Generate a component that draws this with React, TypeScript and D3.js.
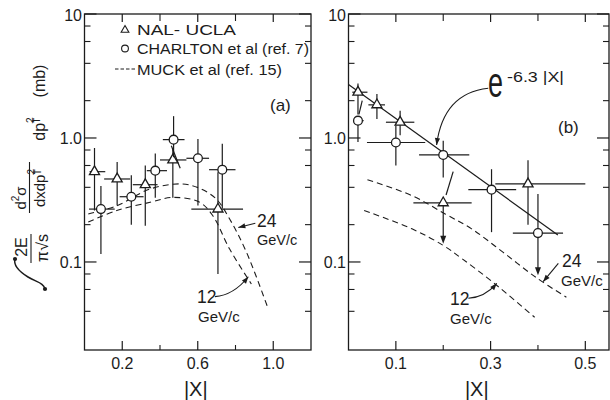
import React from "react";
import * as d3 from "d3";

// ---------------- data ----------------
// Panel (a): NAL-UCLA (triangles)
const aNalX = [0.053, 0.173, 0.322, 0.468, 0.707];
const aNalY = [0.535, 0.467, 0.42, 0.665, 0.267];
const aNalXLo = [0.027, 0.104, 0.256, 0.4, 0.566];
const aNalXHi = [0.11, 0.242, 0.387, 0.54, 0.84];
const aNalYLo = [0.26, 0.285, 0.196, 0.33, 0.08];
const aNalYHi = [0.83, 0.64, 0.6, 0.82, 0.53];
// Panel (a): Charlton et al (circles)
const aChaX = [0.087, 0.248, 0.375, 0.472, 0.601, 0.73];
const aChaY = [0.267, 0.336, 0.545, 0.97, 0.686, 0.555];
const aChaXLo = [0.024, 0.186, 0.33, 0.415, 0.54, 0.66];
const aChaXHi = [0.16, 0.313, 0.437, 0.53, 0.66, 0.8];
const aChaYLo = [0.116, 0.2, 0.33, 0.7, 0.285, 0.27];
const aChaYHi = [0.41, 0.5, 0.75, 1.5, 0.98, 0.9];
// Panel (a): Muck et al curves
const aMuck24X = [0.02, 0.171, 0.348, 0.513, 0.61, 0.698, 0.769, 0.858, 0.973];
const aMuck24Y = [0.244, 0.284, 0.388, 0.426, 0.393, 0.322, 0.222, 0.12, 0.042];
const aMuck12X = [0.02, 0.171, 0.348, 0.47, 0.61, 0.68, 0.769, 0.884];
const aMuck12Y = [0.21, 0.26, 0.303, 0.332, 0.303, 0.236, 0.127, 0.0665];
const aSlashX = [0.46, 0.507];
const aSlashY = [0.867, 0.57];

// Panel (b): NAL-UCLA
const bNalX = [0.02, 0.06, 0.109, 0.2, 0.379];
const bNalY = [2.34, 1.85, 1.34, 0.3, 0.426];
const bNalXLo = [0.008, 0.042, 0.079, 0.137, 0.31];
const bNalXHi = [0.04, 0.077, 0.139, 0.26, 0.5];
const bNalYLo = [1.55, 1.42, 1.05, 0.14, 0.2];
const bNalYHi = [2.75, 2.26, 1.66, 0.3, 0.66];
const bNalLimit = [false, false, false, true, false];
// Panel (b): Charlton
const bChaX = [0.02, 0.1, 0.2, 0.302, 0.4];
const bChaY = [1.38, 0.92, 0.73, 0.383, 0.171];
const bChaXLo = [0.01, 0.039, 0.149, 0.253, 0.347];
const bChaXHi = [0.032, 0.162, 0.255, 0.354, 0.453];
const bChaYLo = [0.93, 0.6, 0.48, 0.174, 0.078];
const bChaYHi = [1.5, 1.26, 0.95, 0.56, 0.353];
const bChaLimit = [false, false, false, false, true];
// Panel (b): Muck curves and exp fit
const bMuck24X = [0.04, 0.134, 0.204, 0.26, 0.326, 0.396, 0.46];
const bMuck24Y = [0.46, 0.343, 0.244, 0.185, 0.12, 0.075, 0.052];
const bMuck12X = [0.033, 0.134, 0.2, 0.24, 0.305, 0.393];
const bMuck12Y = [0.26, 0.185, 0.136, 0.106, 0.0686, 0.0358];
const bFitX = [0, 0.442];
const bFitY = [2.7, 0.165];
const bSlash1X = [0.022, 0.029];
const bSlash1Y = [1.55, 2.0];
const bSlash2X = [0.206, 0.221];
const bSlash2Y = [0.347, 0.535];

// ticks
const aXMajor = [0.2, 0.6, 1.0];
const aXMajorLabels = ["0.2", "0.6", "1.0"];
const aXMinor = [0.4, 0.8];
const bXMajor = [0.1, 0.3, 0.5];
const bXMajorLabels = ["0.1", "0.3", "0.5"];
const bXMinor = [0.2, 0.4];
const yMajor = [0.1, 1, 10];
const yMajorLabels = ["0.1", "1.0", "10"];
const yMinor = [0.04, 0.06, 0.08, 0.2, 0.4, 0.6, 0.8, 2, 4, 6, 8];

// ---------------- layout ----------------
const FONT = "'Liberation Sans', Arial, Helvetica, sans-serif";
const INK = "#1c1c1c";
const TOP = 14;
const BOTTOM = 350;
const y = d3.scaleLog().domain([0.0195, 10]).range([BOTTOM, TOP]);
const xA = d3.scaleLinear().domain([0, 1.2]).range([84.5, 311]);
const xB = d3.scaleLinear().domain([0, 0.55]).range([348.5, 609]);

type Scale = d3.ScaleLinear<number, number>;

function curvePath(xs: Scale, X: number[], Y: number[]) {
  const pts: [number, number][] = X.map((v, i) => [xs(v), y(Y[i])]);
  return d3.line().curve(d3.curveCatmullRom.alpha(0.5))(pts) || "";
}

function Frame({ xs, xMajor, xLabels, xMinor }: { xs: Scale; xMajor: number[]; xLabels: string[]; xMinor: number[] }) {
  const [x0, x1] = xs.range();
  const els: any[] = [];
  els.push(<rect key="f" x={x0} y={TOP} width={x1 - x0} height={BOTTOM - TOP} fill="none" stroke={INK} strokeWidth={1.3} />);
  yMajor.forEach((v, i) => {
    const yy = y(v);
    els.push(<line key={"ylM" + i} x1={x0} x2={x0 + 12} y1={yy} y2={yy} stroke={INK} strokeWidth={1.2} />);
    els.push(<line key={"yrM" + i} x1={x1 - 12} x2={x1} y1={yy} y2={yy} stroke={INK} strokeWidth={1.2} />);
    els.push(
      <text key={"yt" + i} x={x0 - 2.5} y={yy + 6.5} textAnchor="end" fontSize={16} fontFamily={FONT} fill={INK}>
        {yMajorLabels[i]}
      </text>
    );
  });
  yMinor.forEach((v, i) => {
    const yy = y(v);
    els.push(<line key={"ylm" + i} x1={x0} x2={x0 + 6} y1={yy} y2={yy} stroke={INK} strokeWidth={1.1} />);
    els.push(<line key={"yrm" + i} x1={x1 - 6} x2={x1} y1={yy} y2={yy} stroke={INK} strokeWidth={1.1} />);
  });
  xMajor.forEach((v, i) => {
    const xx = xs(v);
    els.push(<line key={"xbM" + i} x1={xx} x2={xx} y1={BOTTOM} y2={BOTTOM - 9} stroke={INK} strokeWidth={1.2} />);
    els.push(<line key={"xtM" + i} x1={xx} x2={xx} y1={TOP} y2={TOP + 8} stroke={INK} strokeWidth={1.2} />);
    els.push(
      <text key={"xt" + i} x={xx} y={369} textAnchor="middle" fontSize={16} fontFamily={FONT} fill={INK}>
        {xLabels[i]}
      </text>
    );
  });
  xMinor.forEach((v, i) => {
    const xx = xs(v);
    els.push(<line key={"xbm" + i} x1={xx} x2={xx} y1={BOTTOM} y2={BOTTOM - 5} stroke={INK} strokeWidth={1.1} />);
    els.push(<line key={"xtm" + i} x1={xx} x2={xx} y1={TOP} y2={TOP + 7} stroke={INK} strokeWidth={1.1} />);
  });
  els.push(
    <text key="xlab" x={(x0 + x1) / 2 - 2} y={396} textAnchor="middle" fontSize={20} fontFamily={FONT} fill={INK}>
      |X|
    </text>
  );
  return <g>{els}</g>;
}

function Series({
  xs, X, Y, XLo, XHi, YLo, YHi, limit, shape,
}: {
  xs: Scale; X: number[]; Y: number[]; XLo: number[]; XHi: number[]; YLo: number[]; YHi: number[]; limit?: boolean[]; shape: "tri" | "circ";
}) {
  const tri = d3.symbol(d3.symbolTriangle, 44)() || "";
  return (
    <g>
      {X.map((v, i) => {
        const cx = xs(v);
        const cy = y(Y[i]);
        const lim = limit && limit[i];
        return (
          <g key={i}>
            <line x1={xs(XLo[i])} x2={xs(XHi[i])} y1={cy} y2={cy} stroke={INK} strokeWidth={1.2} />
            {lim ? (
              <>
                {YHi[i] > Y[i] && <line x1={cx} x2={cx} y1={y(YHi[i])} y2={cy} stroke={INK} strokeWidth={1.2} />}
                <line x1={cx} x2={cx} y1={cy} y2={y(YLo[i]) - 6} stroke={INK} strokeWidth={1.2} />
                <path d={`M${cx},${y(YLo[i])} L${cx - 3},${y(YLo[i]) - 8} L${cx + 3},${y(YLo[i]) - 8} Z`} fill={INK} />
              </>
            ) : (
              <line x1={cx} x2={cx} y1={y(YHi[i])} y2={y(YLo[i])} stroke={INK} strokeWidth={1.2} />
            )}
            {shape === "tri" ? (
              <path d={tri} transform={`translate(${cx},${cy})`} fill="white" stroke={INK} strokeWidth={1.3} />
            ) : (
              <circle cx={cx} cy={cy} r={4.4} fill="white" stroke={INK} strokeWidth={1.3} />
            )}
          </g>
        );
      })}
    </g>
  );
}

function Arrow({ d, tip, from }: { d: string; tip: [number, number]; from: [number, number] }) {
  const ang = Math.atan2(tip[1] - from[1], tip[0] - from[0]);
  const L = 7, Wd = 2.6;
  const bx = tip[0] - L * Math.cos(ang), by = tip[1] - L * Math.sin(ang);
  const p = `M${tip[0]},${tip[1]} L${bx + Wd * Math.sin(ang)},${by - Wd * Math.cos(ang)} L${bx - Wd * Math.sin(ang)},${by + Wd * Math.cos(ang)} Z`;
  return (
    <g>
      <path d={d} fill="none" stroke={INK} strokeWidth={1.1} />
      <path d={p} fill={INK} />
    </g>
  );
}

function YTitle() {
  // rotated -90: local (u,v) -> screen (v,-u)
  const t = (sy: number, sx: number) => ({ x: -sy, y: sx });
  return (
    <g fontFamily={FONT} fill={INK}>
      <path d="M15,259 C13,266 20,272 28,277 C36,282 44,283 45,289" fill="none" stroke={INK} strokeWidth={1.5} />
      <circle cx={15} cy={259} r={2.1} fill={INK} />
      <circle cx={45} cy={289} r={2.1} fill={INK} />
      <g transform="rotate(-90)">
        <text {...t(247, 27)} textAnchor="middle" fontSize={16}>2E</text>
        <text {...t(248, 48)} textAnchor="middle" fontSize={16}>π√s</text>
        <text {...t(198, 26)} textAnchor="middle" fontSize={15}>
          d<tspan fontSize={10} dy={-7}>2</tspan><tspan dy={7}>σ</tspan>
        </text>
        <text {...t(188, 45)} textAnchor="middle" fontSize={15}>
          dxdp<tspan fontSize={10} dy={-10}>2</tspan><tspan fontSize={10} dx={-6} dy={6}>T</tspan>
        </text>
        <text {...t(129, 45)} textAnchor="middle" fontSize={16}>
          dp<tspan fontSize={10} dy={-11}>2</tspan><tspan fontSize={10} dx={-6} dy={6}>T</tspan>
        </text>
        <text {...t(81, 45)} textAnchor="middle" fontSize={16}>(mb)</text>
      </g>
      <line x1={31} x2={31} y1={234} y2={263} stroke={INK} strokeWidth={1.1} />
      <line x1={29.5} x2={29.5} y1={162} y2={213} stroke={INK} strokeWidth={1.1} />
    </g>
  );
}

export default function App() {
  const lineA24 = curvePath(xA, aMuck24X, aMuck24Y);
  const lineA12 = curvePath(xA, aMuck12X, aMuck12Y);
  const lineB24 = curvePath(xB, bMuck24X, bMuck24Y);
  const lineB12 = curvePath(xB, bMuck12X, bMuck12Y);
  const fit = curvePath(xB, bFitX, bFitY);
  const seg = (xs: Scale, X: number[], Y: number[]) => (
    <line x1={xs(X[0])} y1={y(Y[0])} x2={xs(X[1])} y2={y(Y[1])} stroke={INK} strokeWidth={1.2} />
  );

  // arrows (screen positions derived from data-space anchors)
  const a24from: [number, number] = [xA(0.905), y(0.205)];
  const a24tip: [number, number] = [xA(0.815), y(0.19)];
  const a12from: [number, number] = [xA(0.691), y(0.0525)];
  const a12ctl: [number, number] = [xA(0.79), y(0.054)];
  const a12tip: [number, number] = [xA(0.868), y(0.076)];
  const b24from: [number, number] = [xB(0.443), y(0.0976)];
  const b24tip: [number, number] = [xB(0.411), y(0.0693)];
  const b12from: [number, number] = [xB(0.253), y(0.051)];
  const b12ctl: [number, number] = [xB(0.288), y(0.052)];
  const b12tip: [number, number] = [xB(0.313), y(0.0673)];
  const eFrom: [number, number] = [xB(0.295), y(2.52)];
  const eCtl: [number, number] = [xB(0.2), y(2.3)];
  const eTip: [number, number] = [xB(0.186), y(0.878)];

  return (
    <svg width={610} height={400} style={{ position: "absolute", left: 0, top: 0, background: "white" }}>
      <rect x={0} y={0} width={610} height={400} fill="white" />
      <YTitle />
      <Frame xs={xA} xMajor={aXMajor} xLabels={aXMajorLabels} xMinor={aXMinor} />
      <Frame xs={xB} xMajor={bXMajor} xLabels={bXMajorLabels} xMinor={bXMinor} />

      {/* Panel (a) */}
      <path d={lineA24} fill="none" stroke={INK} strokeWidth={1.1} strokeDasharray="6,4" />
      <path d={lineA12} fill="none" stroke={INK} strokeWidth={1.1} strokeDasharray="6,4" />
      {seg(xA, aSlashX, aSlashY)}
      <Series xs={xA} X={aNalX} Y={aNalY} XLo={aNalXLo} XHi={aNalXHi} YLo={aNalYLo} YHi={aNalYHi} shape="tri" />
      <Series xs={xA} X={aChaX} Y={aChaY} XLo={aChaXLo} XHi={aChaXHi} YLo={aChaYLo} YHi={aChaYHi} shape="circ" />
      <Arrow d={`M${a24from[0]},${a24from[1]} L${a24tip[0]},${a24tip[1]}`} from={a24from} tip={a24tip} />
      <Arrow d={`M${a12from[0]},${a12from[1]} Q${a12ctl[0]},${a12ctl[1]} ${a12tip[0]},${a12tip[1]}`} from={a12ctl} tip={a12tip} />

      <g fontFamily={FONT} fill={INK}>
        <text x={257} y={227} fontSize={17.5}>24</text>
        <text x={257} y={245} fontSize={14.5}>GeV/c</text>
        <text x={197} y={303} fontSize={17.5}>12</text>
        <text x={198} y={322} fontSize={15}>GeV/c</text>
        <text x={270} y={111} fontSize={17}>(a)</text>
        {/* legend */}
        <path d={d3.symbol(d3.symbolTriangle, 26)() || ""} transform="translate(125,30)" fill="white" stroke={INK} strokeWidth={1.1} />
        <text x={137} y={35} fontSize={15.5} textLength={99} lengthAdjust="spacingAndGlyphs">NAL- UCLA</text>
        <circle cx={125} cy={48.5} r={3.4} fill="white" stroke={INK} strokeWidth={1.1} />
        <text x={137} y={54} fontSize={15.5} textLength={172} lengthAdjust="spacingAndGlyphs">CHARLTON et al (ref. 7)</text>
        <line x1={115} x2={135} y1={69} y2={69} stroke={INK} strokeWidth={1} strokeDasharray="3.5,2" />
        <text x={137} y={75} fontSize={15.5} textLength={145} lengthAdjust="spacingAndGlyphs">MUCK et al (ref. 15)</text>
      </g>

      {/* Panel (b) */}
      <path d={lineB24} fill="none" stroke={INK} strokeWidth={1.1} strokeDasharray="6,4" />
      <path d={lineB12} fill="none" stroke={INK} strokeWidth={1.1} strokeDasharray="6,4" />
      <path d={fit} fill="none" stroke={INK} strokeWidth={1.2} />
      {seg(xB, bSlash1X, bSlash1Y)}
      {seg(xB, bSlash2X, bSlash2Y)}
      <Series xs={xB} X={bNalX} Y={bNalY} XLo={bNalXLo} XHi={bNalXHi} YLo={bNalYLo} YHi={bNalYHi} limit={bNalLimit} shape="tri" />
      <Series xs={xB} X={bChaX} Y={bChaY} XLo={bChaXLo} XHi={bChaXHi} YLo={bChaYLo} YHi={bChaYHi} limit={bChaLimit} shape="circ" />
      <Arrow d={`M${b24from[0]},${b24from[1]} L${b24tip[0]},${b24tip[1]}`} from={b24from} tip={b24tip} />
      <Arrow d={`M${b12from[0]},${b12from[1]} Q${b12ctl[0]},${b12ctl[1]} ${b12tip[0]},${b12tip[1]}`} from={b12ctl} tip={b12tip} />
      <Arrow d={`M${eFrom[0]},${eFrom[1]} Q${eCtl[0]},${eCtl[1]} ${eTip[0]},${eTip[1]}`} from={eCtl} tip={eTip} />

      <g fontFamily={FONT} fill={INK}>
        <text x={562} y={267} fontSize={17.5}>24</text>
        <text x={561} y={286} fontSize={15}>GeV/c</text>
        <text x={450} y={305} fontSize={17.5}>12</text>
        <text x={450} y={324} fontSize={15}>GeV/c</text>
        <text x={558} y={133} fontSize={17}>(b)</text>
        <text x={488} y={97} fontSize={42} textLength={15} lengthAdjust="spacingAndGlyphs">e</text>
        <text x={507} y={82} fontSize={14} textLength={57} lengthAdjust="spacingAndGlyphs">-6.3 |X|</text>
      </g>
    </svg>
  );
}
